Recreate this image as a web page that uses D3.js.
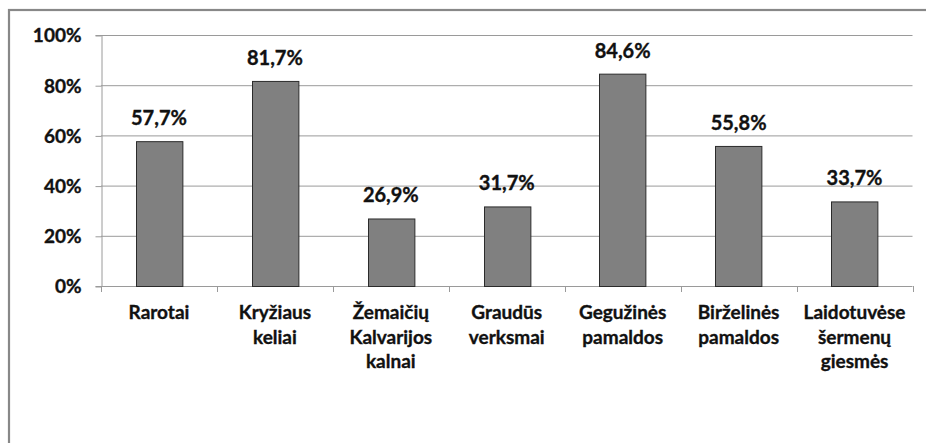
<!DOCTYPE html>
<html>
<head>
<meta charset="utf-8">
<script src="https://cdn.jsdelivr.net/npm/d3@7"></script>
<style>
  html, body { margin: 0; padding: 0; background: #fff; }
  svg { display: block; }
  text { font-family: Lato, "Open Sans", sans-serif; font-weight: bold; fill: #111; stroke: #111; stroke-width: 0.35px; }
</style>
</head>
<body>
<svg id="chart" width="926" height="443"></svg>
<script>
// Category names (each inner array is one wrapped label)
const categories = [
  ["Rarotai"],
  ["Kryžiaus", "keliai"],
  ["Žemaičių", "Kalvarijos", "kalnai"],
  ["Graudūs", "verksmai"],
  ["Gegužinės", "pamaldos"],
  ["Birželinės", "pamaldos"],
  ["Laidotuvėse", "šermenų", "giesmės"]
];
const values = [57.7, 81.7, 26.9, 31.7, 84.6, 55.8, 33.7];
const yTicks = [0, 20, 40, 60, 80, 100];

const svg = d3.select("#chart");
const W = 926, H = 443;

// Outer chart frame (runs off the right and bottom edges)
svg.append("rect")
  .attr("x", 9).attr("y", 10)
  .attr("width", W + 20).attr("height", H + 20)
  .attr("fill", "#fff")
  .attr("stroke", "#888").attr("stroke-width", 2.2);

const plot = { left: 101, right: 912.5, top: 35, bottom: 286 };

const x = d3.scaleBand()
  .domain(d3.range(categories.length))
  .range([plot.left, plot.right])
  .paddingInner(0.6).paddingOuter(0.3);
const xOuter = d3.scaleBand()
  .domain(d3.range(categories.length))
  .range([plot.left, plot.right]);

const y = d3.scaleLinear().domain([0, 100]).range([plot.bottom, plot.top]);

// Horizontal gridlines
svg.append("g")
  .selectAll("line")
  .data(yTicks.filter(d => d > 0))
  .join("line")
  .attr("x1", plot.left).attr("x2", plot.right)
  .attr("y1", d => y(d) + 0.5).attr("y2", d => y(d) + 0.5)
  .attr("stroke", "#9a9a9a").attr("stroke-width", 1);

// Y axis
const yAxis = svg.append("g")
  .attr("transform", `translate(${plot.left + 0.5},0)`)
  .call(d3.axisLeft(y).tickValues(yTicks).tickFormat(d => d + "%").tickSize(6).tickPadding(14));
yAxis.select(".domain").attr("stroke", "#9a9a9a");
yAxis.selectAll(".tick line").attr("stroke", "#9a9a9a").attr("transform", "translate(0,0.5)");
yAxis.selectAll(".tick text")
  .attr("font-size", 19).attr("font-family", null).attr("fill", "#111")
  .attr("dy", "0.36em");

// X axis with category boundary ticks
const xAxisG = svg.append("g");
xAxisG.append("line")
  .attr("x1", plot.left).attr("x2", plot.right)
  .attr("y1", plot.bottom + 0.5).attr("y2", plot.bottom + 0.5)
  .attr("stroke", "#9a9a9a");
const bounds = d3.range(categories.length + 1).map(i =>
  i < categories.length ? xOuter(i) : xOuter(i - 1) + xOuter.bandwidth());
xAxisG.selectAll("line.tick")
  .data(bounds)
  .join("line")
  .attr("class", "tick")
  .attr("x1", d => Math.round(d) + 0.5).attr("x2", d => Math.round(d) + 0.5)
  .attr("y1", plot.bottom).attr("y2", plot.bottom + 6)
  .attr("stroke", "#9a9a9a");

// Bars
svg.append("g")
  .selectAll("rect")
  .data(values)
  .join("rect")
  .attr("x", (d, i) => Math.round(x(i)) + 0.5)
  .attr("y", d => y(d) + 0.5)
  .attr("width", x.bandwidth())
  .attr("height", d => plot.bottom - y(d))
  .attr("fill", "#808080")
  .attr("stroke", "#2b2b2b").attr("stroke-width", 1);

// Value labels
svg.append("g")
  .selectAll("text")
  .data(values)
  .join("text")
  .attr("x", (d, i) => x(i) + x.bandwidth() / 2)
  .attr("y", d => y(d) - 16)
  .attr("text-anchor", "middle")
  .attr("font-size", 20)
  .text(d => d.toFixed(1).replace(".", ",") + "%");

// Category labels
const catG = svg.append("g");
categories.forEach((lines, i) => {
  const t = catG.append("text")
    .attr("x", xOuter(i) + xOuter.bandwidth() / 2)
    .attr("y", 319)
    .attr("text-anchor", "middle")
    .attr("font-size", 19);
  lines.forEach((ln, j) => {
    t.append("tspan")
      .attr("x", xOuter(i) + xOuter.bandwidth() / 2)
      .attr("dy", j === 0 ? 0 : 24.5)
      .text(ln);
  });
});
</script>
</body>
</html>
